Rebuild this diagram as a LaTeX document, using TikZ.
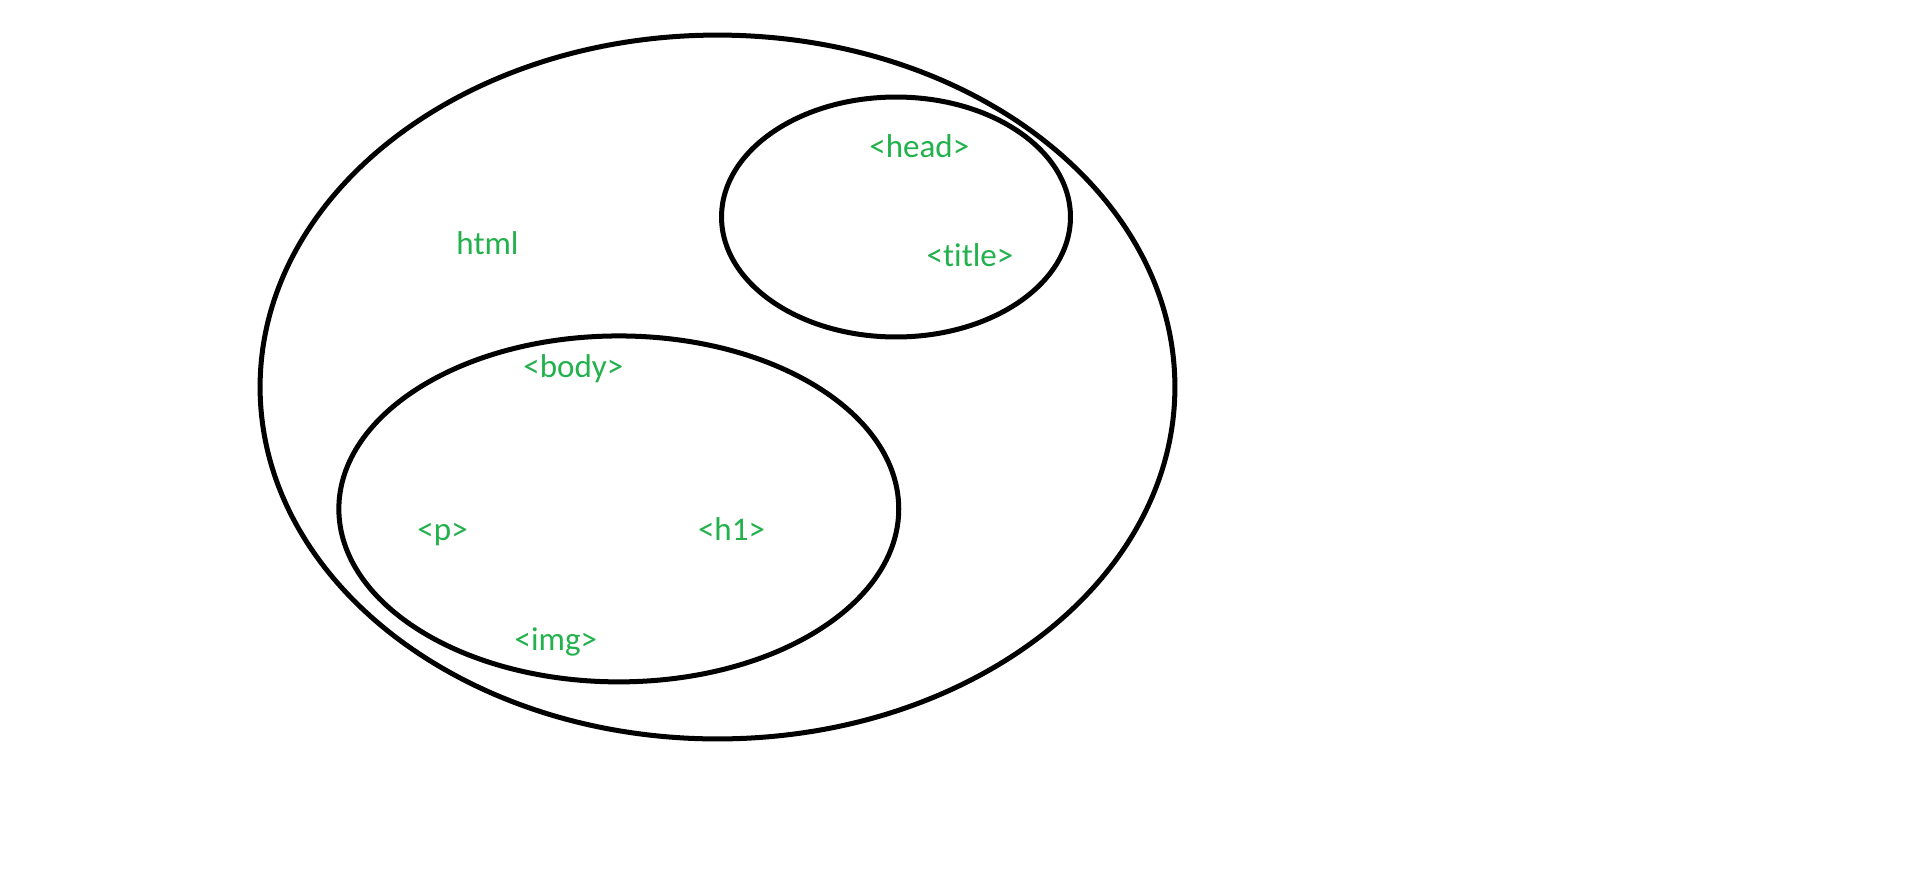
\documentclass[tikz,border=0pt]{standalone}
\usepackage{fontspec}
\setmainfont{Carlito}[Ligatures=NoCommon]
\definecolor{paintgreen}{HTML}{22B14C}

\begin{document}
\begin{tikzpicture}[x=0.02cm,y=-0.02cm,
        ring/.style={line width=2.85pt},
        tag/.style={paintgreen,anchor=base,inner sep=0pt,font=\fontsize{18.8}{22}\selectfont}]
                \useasboundingbox (0,0) rectangle (1914,873);
                \coordinate (htmlc) at (717.5,387);
                \coordinate (headc) at (896,217);
                \coordinate (bodyc) at (618.8,508.9);
                \draw[ring] (htmlc) ellipse [x radius=9.15cm, y radius=7.04cm];
                \draw[ring] (headc) ellipse [x radius=3.49cm, y radius=2.4cm];
                \draw[ring] (bodyc) ellipse [x radius=5.6cm, y radius=3.46cm];
                \node[tag] (html) at (487.5,254) {html};
                \node[tag] (head) at (919.3,157.3) {<head>};
                \node[tag] (title) at (970,266.5) {<title>};
                \node[tag] (body) at (573.3,377.3) {<body>};
                \node[tag] (p) at (442.6,540) {<p>};
                \node[tag] (h1) at (731.5,540) {<h1>};
                \node[tag] (img) at (555.8,650) {<img>};
            \end{tikzpicture}
\end{document}
